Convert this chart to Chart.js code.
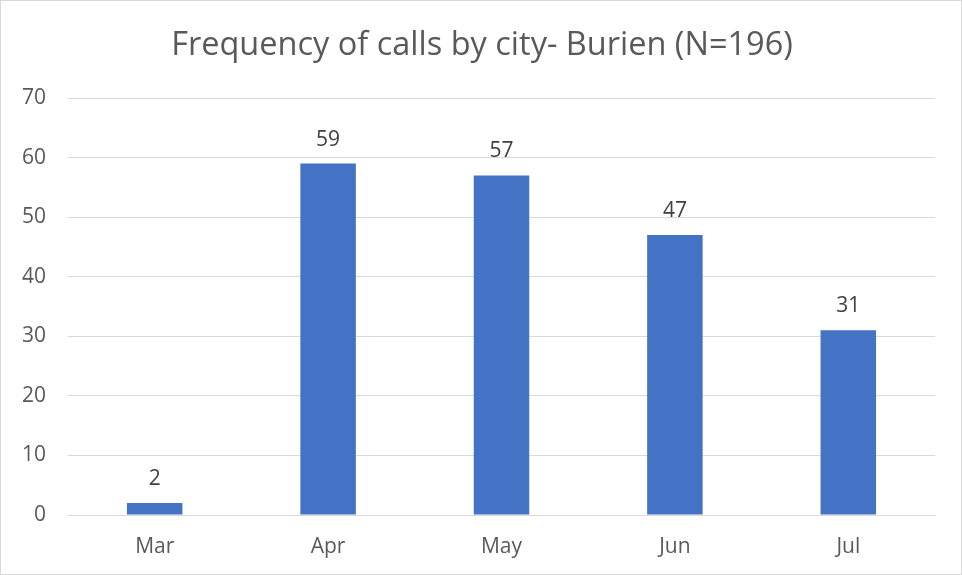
<!DOCTYPE html>
<html>
<head>
<meta charset="utf-8">
<script src="https://cdn.jsdelivr.net/npm/chart.js@4/dist/chart.umd.min.js"></script>
<style>
html,body{margin:0;padding:0;background:#fff;}
#wrap{width:962px;height:575px;box-sizing:border-box;border:1px solid #d9d9d9;position:relative;}
canvas{display:block;}
</style>
</head>
<body>
<div id="wrap"><canvas id="c" width="960" height="573"></canvas></div>
<script>
const categories = ["Mar", "Apr", "May", "Jun", "Jul"];
const callCounts = [2, 59, 57, 47, 31];
const chartTitle = "Frequency of calls by city- Burien (N=196)";

const FONT = "'Open Sans', sans-serif";
const TEXT = "#595959";

const dataLabels = {
  id: "dataLabels",
  afterDatasetsDraw(chart) {
    const ctx = chart.ctx;
    const meta = chart.getDatasetMeta(0);
    ctx.save();
    ctx.font = "21px " + FONT;
    ctx.fillStyle = "#404040";
    ctx.textAlign = "center";
    ctx.textBaseline = "alphabetic";
    meta.data.forEach((bar, i) => {
      ctx.fillText(String(chart.data.datasets[0].data[i]), bar.x, bar.y - 18);
    });
    ctx.restore();
  }
};

const centeredTitle = {
  id: "centeredTitle",
  afterDraw(chart) {
    const ctx = chart.ctx;
    ctx.save();
    ctx.font = "32.5px " + FONT;
    ctx.fillStyle = TEXT;
    ctx.textAlign = "center";
    ctx.textBaseline = "alphabetic";
    ctx.fillText(chartTitle, chart.width / 2 + 1, 54);
    ctx.restore();
  }
};

new Chart(document.getElementById("c"), {
  type: "bar",
  data: {
    labels: categories,
    datasets: [{
      data: callCounts,
      backgroundColor: "#4472C4",
      categoryPercentage: 1,
      barPercentage: 0.32
    }]
  },
  options: {
    responsive: false,
    animation: false,
    layout: { padding: { left: 0, right: 26, top: 97, bottom: 0 } },
    plugins: {
      legend: { display: false },
      tooltip: { enabled: false },
      title: { display: false }
    },
    scales: {
      y: {
        min: 0, max: 70,
        ticks: { stepSize: 10, color: TEXT, font: { family: FONT, size: 21 }, padding: 22 },
        grid: { color: "#d9d9d9", drawTicks: false, lineWidth: 1 },
        border: { display: false },
        afterFit(scale) { scale.width = 67; }
      },
      x: {
        ticks: { color: TEXT, font: { family: FONT, size: 21 }, padding: 19 },
        grid: { display: false, drawTicks: false },
        border: { display: true, color: "#d9d9d9" },
        afterFit(scale) { scale.height = 59; }
      }
    }
  },
  plugins: [dataLabels, centeredTitle]
});
</script>
</body>
</html>
